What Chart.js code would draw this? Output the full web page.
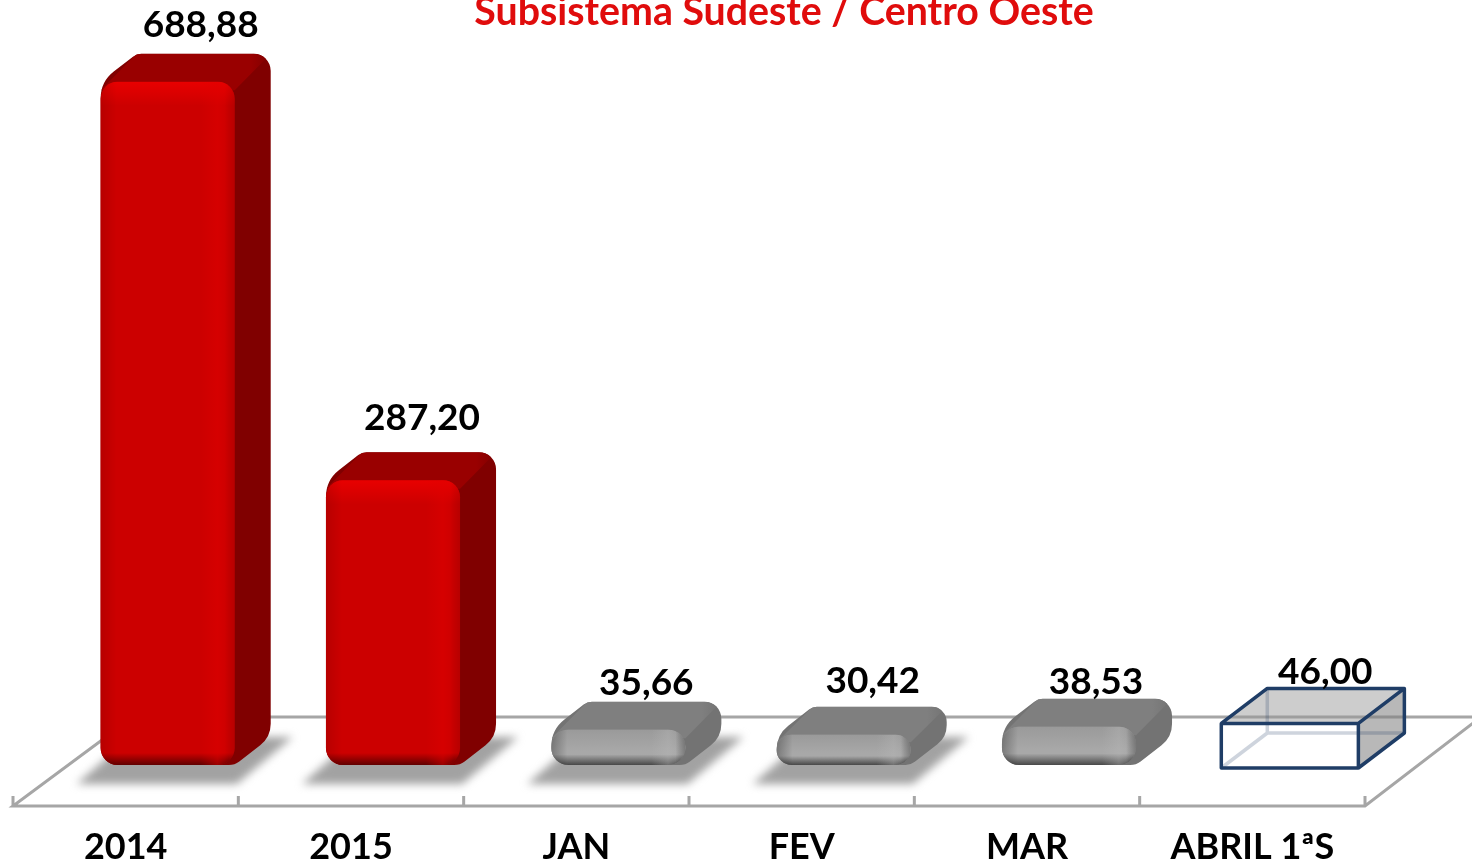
<!DOCTYPE html>
<html lang="pt">
<head>
<meta charset="utf-8">
<title>Subsistema Sudeste / Centro Oeste</title>
<script src="https://cdn.jsdelivr.net/npm/chart.js@4"></script>
<style>
    html, body { margin: 0; padding: 0; background: #ffffff; overflow: hidden; }
    #wrap { width: 1472px; height: 864px; position: relative; }
</style>
</head>
<body>
<div id="wrap"><canvas id="grafico"></canvas></div>
<script>
const categorias = ['2014', '2015', 'JAN', 'FEV', 'MAR', 'ABRIL 1ªS'];
const valores = [688.88, 287.20, 35.66, 30.42, 38.53, 46.00];
const tipos = ['red', 'red', 'gray', 'gray', 'gray', 'box'];
const comSombra = [true, true, true, true, false, false];

// ajuste fino dos rotulos, estao colocados a mao no original
const ajusteRotulo = [[33, -57], [29, -62], [28, -47], [29, -54], [27, -45], [31, -47]];

const FONTE = 'Lato, Carlito, "Open Sans", sans-serif';
const estilos = {
    red: { front: '#cc0000', top: '#990000', side: '#800000', light: '235,0,0', lightA: 0.9, dark: '60,0,0', darkA: 0.75, band: '225,0,0', bandA: 0.45, edge: 0.1 },
    gray: { front: '#a8a8a8', top: '#7f7f7f', side: '#737373', light: '140,140,140', lightA: 0.5, dark: '40,40,40', darkA: 0.75, band: '185,185,185', bandA: 0.35, edge: 0.28 }
};
const DX = 36, DY = 28, RAIO = 17;
const LABEL_SHIFT = 42;

// poligono com um raio para cada canto
const poligono = (ctx, pts, raios) => {
    ctx.beginPath();
    const n = pts.length;
    ctx.moveTo((pts[n - 1][0] + pts[0][0]) / 2, (pts[n - 1][1] + pts[0][1]) / 2);
    pts.forEach((p, i) => {
        const q = pts[(i + 1) % n];
        ctx.arcTo(p[0], p[1], q[0], q[1], raios[i]);
    });
    ctx.closePath();
};

const desenhaChao = (chart) => {
    const { ctx, scales: { x }, chartArea } = chart;
    const passo = x.getPixelForValue(1) - x.getPixelForValue(0);
    const esq = chartArea.left - LABEL_SHIFT;
    const dir = chartArea.right - LABEL_SHIFT;
    const frente = chartArea.bottom + 41;
    const fundo = chartArea.bottom - 48;
    ctx.save();
    ctx.strokeStyle = '#a6a6a6';
    ctx.lineWidth = 3;
    ctx.beginPath();
    ctx.moveTo(esq + 120, fundo);
    ctx.lineTo(esq, frente);
    ctx.lineTo(dir, frente);
    ctx.lineTo(dir + 116, fundo);
    ctx.lineTo(esq + 120, fundo);
    for (let i = 0; i <= categorias.length; i++) {
        const px = esq + passo * i;
        ctx.moveTo(px, frente);
        ctx.lineTo(px, frente - 10);
    }
    ctx.stroke();
    ctx.restore();
};

const desenhaSombra = (ctx, b) => {
    const l = b.x - b.width / 2, r = b.x + b.width / 2;
    ctx.save();
    ctx.filter = 'blur(4px)';
    ctx.fillStyle = '#a2a2a2';
    ctx.beginPath();
    ctx.moveTo(l - 24, b.base + 19);
    ctx.lineTo(r + 2, b.base + 19);
    ctx.lineTo(r + 58, b.base - 28);
    ctx.lineTo(l + 30, b.base - 28);
    ctx.closePath();
    ctx.fill();
    ctx.restore();
};

// faces de cima e lateral, ficam atras da barra da biblioteca
const desenhaVolume = (ctx, b, est) => {
    const l = b.x - b.width / 2, r = b.x + b.width / 2;
    const h = b.base - b.y;
    const raio = Math.min(RAIO, h / 2);
    ctx.save();
    poligono(ctx, [
        [l, b.y], [l + DX, b.y - DY], [r + DX, b.y - DY], [r + DX, b.base - DY], [r, b.base], [l, b.base]
    ], [raio * 2, raio * 0.8, raio, raio * 1.6, raio, raio]);
    ctx.fillStyle = est.side;
    ctx.fill();
    ctx.clip();
    const grad = ctx.createLinearGradient(r, 0, r + DX, 0);
    grad.addColorStop(0, est.top);
    grad.addColorStop(0.45, est.top);
    grad.addColorStop(1, est.side);
    ctx.fillStyle = grad;
    ctx.beginPath();
    ctx.moveTo(l, b.y + raio * 0.5);
    ctx.lineTo(l + DX, b.y - DY);
    ctx.lineTo(r + DX, b.y - DY);
    ctx.lineTo(r, b.y + raio * 0.5);
    ctx.closePath();
    ctx.fill();
    ctx.restore();
};

// chanfro da face frontal
const desenhaChanfro = (ctx, b, est) => {
    const l = b.x - b.width / 2, r = b.x + b.width / 2;
    const h = b.base - b.y;
    const raio = Math.min(RAIO, h / 2);
    const borda = Math.min(12, h * 0.3);
    ctx.save();
    ctx.beginPath();
    ctx.roundRect(l, b.y, b.width, h, raio);
    ctx.clip();

    let g = ctx.createLinearGradient(0, b.y, 0, b.y + borda * 2);
    g.addColorStop(0, `rgba(${est.light},${est.lightA})`);
    g.addColorStop(1, `rgba(${est.light},0)`);
    ctx.fillStyle = g;
    ctx.fillRect(l, b.y, b.width, borda * 2);

    g = ctx.createLinearGradient(0, b.base - borda, 0, b.base);
    g.addColorStop(0, `rgba(${est.dark},0)`);
    g.addColorStop(1, `rgba(${est.dark},${est.darkA})`);
    ctx.fillStyle = g;
    ctx.fillRect(l, b.base - borda, b.width, borda);

    g = ctx.createLinearGradient(l, 0, l + 16, 0);
    g.addColorStop(0, `rgba(0,0,0,${est.edge})`);
    g.addColorStop(1, 'rgba(0,0,0,0)');
    ctx.fillStyle = g;
    ctx.fillRect(l, b.y, 16, h);

    g = ctx.createLinearGradient(r - 34, 0, r - 6, 0);
    g.addColorStop(0, `rgba(${est.band},0)`);
    g.addColorStop(0.6, `rgba(${est.band},${est.bandA})`);
    g.addColorStop(1, `rgba(${est.band},0)`);
    ctx.fillStyle = g;
    ctx.fillRect(r - 34, b.y, 28, h);

    g = ctx.createLinearGradient(r - 10, 0, r, 0);
    g.addColorStop(0, 'rgba(0,0,0,0)');
    g.addColorStop(1, `rgba(0,0,0,${est.edge})`);
    ctx.fillStyle = g;
    ctx.fillRect(r - 10, b.y, 10, h);
    ctx.restore();
};

// a caixa de abril foi desenhada por cima, um pouco deslocada das outras barras
const desenhaCaixa = (ctx, b) => {
    const l = b.x - b.width / 2 - 6, r = b.x + b.width / 2 - 3;
    const baixo = b.base + 3, cima = b.y + 4;
    const dx = 46, dy = 35;
    ctx.save();
    ctx.lineJoin = 'round';

    ctx.fillStyle = 'rgba(150,150,150,0.48)';
    ctx.beginPath();
    ctx.moveTo(l, cima);
    ctx.lineTo(l + dx, cima - dy);
    ctx.lineTo(r + dx, cima - dy);
    ctx.lineTo(r, cima);
    ctx.closePath();
    ctx.fill();

    ctx.fillStyle = 'rgba(125,125,125,0.55)';
    ctx.beginPath();
    ctx.moveTo(r, cima);
    ctx.lineTo(r + dx, cima - dy);
    ctx.lineTo(r + dx, baixo - dy);
    ctx.lineTo(r, baixo);
    ctx.closePath();
    ctx.fill();

    ctx.strokeStyle = 'rgba(31,61,102,0.22)';
    ctx.lineWidth = 3.5;
    ctx.beginPath();
    ctx.moveTo(l + dx, cima - dy);
    ctx.lineTo(l + dx, baixo - dy);
    ctx.lineTo(r + dx, baixo - dy);
    ctx.moveTo(l + dx, baixo - dy);
    ctx.lineTo(l, baixo);
    ctx.stroke();

    ctx.strokeStyle = '#1f3d66';
    ctx.beginPath();
    ctx.rect(l, cima, r - l, baixo - cima);
    ctx.moveTo(l, cima);
    ctx.lineTo(l + dx, cima - dy);
    ctx.lineTo(r + dx, cima - dy);
    ctx.lineTo(r, cima);
    ctx.moveTo(r + dx, cima - dy);
    ctx.lineTo(r + dx, baixo - dy);
    ctx.lineTo(r, baixo);
    ctx.stroke();
    ctx.restore();
};

const barras3d = {
    id: 'barras3d',
    afterLayout(chart) {
        // o titulo no original nao esta centrado na pagina
        chart.titleBlock.left += 53;
        chart.titleBlock.right += 53;
    },
    beforeDatasetsDraw(chart) {
        const { ctx } = chart;
        const barras = chart.getDatasetMeta(0).data;
        desenhaChao(chart);
        barras.forEach((b, i) => { if (comSombra[i]) desenhaSombra(ctx, b); });
        barras.forEach((b, i) => { if (estilos[tipos[i]]) desenhaVolume(ctx, b, estilos[tipos[i]]); });
    },
    afterDatasetsDraw(chart) {
        const { ctx } = chart;
        chart.getDatasetMeta(0).data.forEach((b, i) => {
            if (tipos[i] === 'box') desenhaCaixa(ctx, b);
            else desenhaChanfro(ctx, b, estilos[tipos[i]]);
        });
        ctx.save();
        ctx.fillStyle = '#000000';
        ctx.font = `bold 37px ${FONTE}`;
        ctx.textAlign = 'center';
        ctx.textBaseline = 'middle';
        chart.getDatasetMeta(0).data.forEach((b, i) => {
            const txt = valores[i].toLocaleString('pt-BR', { minimumFractionDigits: 2, maximumFractionDigits: 2 });
            ctx.fillText(txt, b.x + ajusteRotulo[i][0], b.y + ajusteRotulo[i][1]);
        });
        ctx.restore();
    }
};

new Chart(document.getElementById('grafico'), {
    type: 'bar',
    data: {
        labels: categorias,
        datasets: [{
            data: valores,
            backgroundColor: tipos.map(t => estilos[t] ? estilos[t].front : 'rgba(0,0,0,0)'),
            borderWidth: 0,
            borderRadius: RAIO,
            borderSkipped: false,
            inflateAmount: 0,
            categoryPercentage: 1,
            barPercentage: 0.595
        }]
    },
    options: {
        responsive: true,
        maintainAspectRatio: false,
        animation: false,
        layout: { padding: { left: 55, right: 65, top: 0, bottom: 0 } },
        plugins: {
            legend: { display: false },
            tooltip: { enabled: false },
            title: {
                display: true,
                text: 'Subsistema Sudeste / Centro Oeste',
                color: '#e00c0c',
                font: { family: FONTE, size: 39.3, weight: 'bold', lineHeight: 1.2 },
                padding: { top: -11.6, bottom: 0 }
            }
        },
        scales: {
            x: {
                grid: { display: false },
                border: { display: false },
                afterFit(scale) { scale.height = 99; },
                ticks: {
                    color: '#000000',
                    font: { family: FONTE, size: 36, weight: 'bold', lineHeight: 1 },
                    padding: 56,
                    labelOffset: -LABEL_SHIFT,
                    maxRotation: 0,
                    autoSkip: false
                }
            },
            y: {
                display: false,
                min: 0,
                max: 735.5
            }
        }
    },
    plugins: [barras3d]
});
</script>
</body>
</html>
